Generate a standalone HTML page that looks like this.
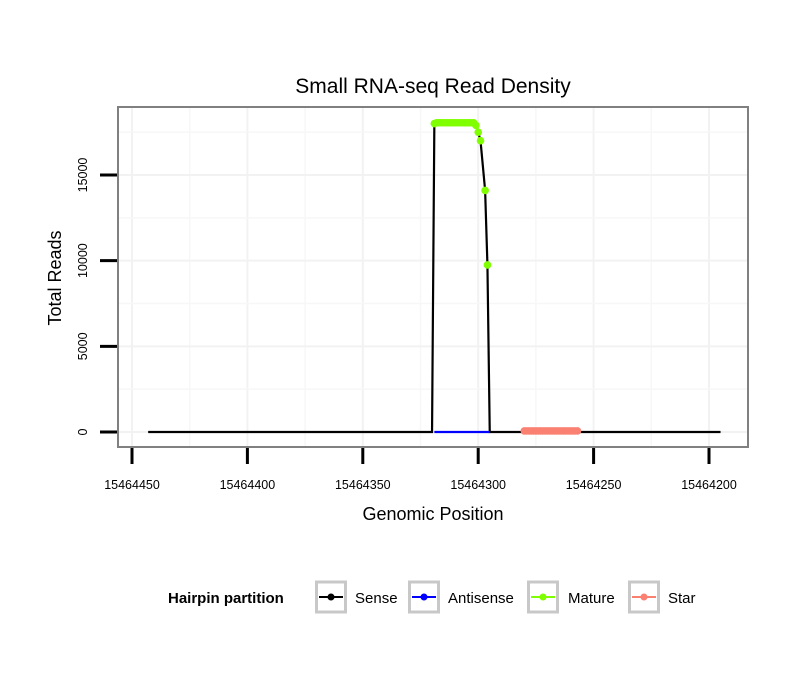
<!DOCTYPE html>
<html><head><meta charset="utf-8"><style>
body{margin:0;background:#fff;font-family:"Liberation Sans",sans-serif}
</style></head><body>
<svg id="c" width="810" height="690" xmlns="http://www.w3.org/2000/svg" font-family="Liberation Sans, sans-serif">
<rect width="810" height="690" fill="#fff"/>
<text x="433" y="93" font-size="21" text-anchor="middle">Small RNA-seq Read Density</text>
<text x="433" y="520" font-size="18" text-anchor="middle">Genomic Position</text>
<text transform="translate(61,278) rotate(-90)" font-size="18" text-anchor="middle">Total Reads</text>
<g id="grid"></g><g id="axes"></g><g id="marks"></g>
<g font-size="15">
<text x="168" y="603" font-weight="bold">Hairpin partition</text>
</g>
<g id="legend"></g>
</svg>
<script>
const xTicks=[15464450,15464400,15464350,15464300,15464250,15464200];
const yTicks=[0,5000,10000,15000];
const sensePos=[15464443,15464320,15464319,15464301,15464300,15464299,15464297,15464296,15464295,15464195];
const senseVal=[0,0,18000,18000,17500,17000,14100,9750,0,0];
const antiPos=[15464319,15464295];
const antiVal=[0,0];
const maturePos=[15464319,15464318,15464317,15464316,15464315,15464314,15464313,15464312,15464311,15464310,15464309,15464308,15464307,15464306,15464305,15464304,15464303,15464302,15464301,15464300,15464299,15464297,15464296];
const matureVal=[18000,18050,18050,18050,18050,18050,18050,18050,18050,18050,18050,18050,18050,18050,18050,18050,18050,18050,17900,17500,17000,14100,9750];
const starPos=[15464280,15464279,15464278,15464277,15464276,15464275,15464274,15464273,15464272,15464271,15464270,15464269,15464268,15464267,15464266,15464265,15464264,15464263,15464262,15464261,15464260,15464259,15464258,15464257];
const starVal=[60,60,60,60,60,60,60,60,60,60,60,60,60,60,60,60,60,60,60,60,60,60,60,60];
const legendLabels=["Sense","Antisense","Mature","Star"];
const legendColors=["#000","#0000ff","#7fff00","#fa8072"];

const NS="http://www.w3.org/2000/svg";
const PL=118,PR=748,PT=107,PB=447;
function X(v){return 132+(15464450-v)*(577/250);}
function Y(v){return 432-v*(257/15000);}
function mk(p,t,a){const e=document.createElementNS(NS,t);for(const k in a)e.setAttribute(k,a[k]);p.appendChild(e);return e;}
const grid=document.getElementById('grid'),axes=document.getElementById('axes'),marks=document.getElementById('marks'),leg=document.getElementById('legend');
const panel=mk(grid,'rect',{x:PL,y:PT,width:PR-PL,height:PB-PT,fill:'#fff'});


for(let i=0;i<xTicks.length;i++){
  const x=X(xTicks[i]);
  const g=mk(grid,'line',{x1:x,x2:x,y1:PT,y2:PB,stroke:'#f2f2f2','stroke-width':2});
  
  
  if(i<xTicks.length-1){const xm=(x+X(xTicks[i+1]))/2;
    const g2=mk(grid,'line',{x1:xm,x2:xm,y1:PT,y2:PB,stroke:'#f7f7f7','stroke-width':1.5});
    
    }
  const t=mk(axes,'line',{x1:x,x2:x,y1:PB,y2:PB+17,stroke:'#000','stroke-width':3});
  
  
  const l=mk(axes,'text',{x:x,y:489,'font-size':12.5,'text-anchor':'middle'});l.textContent=xTicks[i];
  
  
}
for(let i=0;i<yTicks.length;i++){
  const y=Y(yTicks[i]);
  const g=mk(grid,'line',{x1:PL,x2:PR,y1:y,y2:y,stroke:'#f2f2f2','stroke-width':2});
  
  
  const ym=y-(257/15000)*2500;
  const g2=mk(grid,'line',{x1:PL,x2:PR,y1:ym,y2:ym,stroke:'#f7f7f7','stroke-width':1.5});
  
  
  const t=mk(axes,'line',{x1:100,x2:PL,y1:y,y2:y,stroke:'#000','stroke-width':3});
  
  
  const l=mk(axes,'text',{transform:`translate(87,${y}) rotate(-90)`,'font-size':12.5,'text-anchor':'middle'});l.textContent=yTicks[i];
  
  
}
const bd=mk(axes,'rect',{x:PL,y:PT,width:PR-PL,height:PB-PT,fill:'none',stroke:'#808080','stroke-width':2});


function line(pos,val,col,name){
  const p=mk(marks,'polyline',{points:pos.map((v,i)=>X(v)+','+Y(val[i])).join(' '),fill:'none',stroke:col,'stroke-width':2.2});
  
  
}
function pts(pos,val,col,name){
  for(let i=0;i<pos.length;i++){
    const c=mk(marks,'circle',{cx:X(pos[i]),cy:Y(val[i]),r:3.8,fill:col});
    
    
  }
}
line(sensePos,senseVal,'#000','sense-line');
line(antiPos,antiVal,'#0000ff','antisense-line');
pts(maturePos,matureVal,'#7fff00','mature-point');
line(starPos,starVal,'#fa8072','star-line');
pts(starPos,starVal,'#fa8072','star-point');
const lx=[315,408,527,628],tx=[355,448,568,668];
for(let i=0;i<legendLabels.length;i++){
  const g=mk(leg,'g',{});
  
  
  mk(g,'rect',{x:lx[i]+1.5,y:582,width:29,height:30,fill:'#fff',stroke:'#c8c8c8','stroke-width':3});
  mk(g,'line',{x1:lx[i]+4,x2:lx[i]+28,y1:597,y2:597,stroke:legendColors[i],'stroke-width':2});
  mk(g,'circle',{cx:lx[i]+16,cy:597,r:3.5,fill:legendColors[i]});
  const t=mk(g,'text',{x:tx[i],y:603,'font-size':15});t.textContent=legendLabels[i];
}
</script>
</body></html>
